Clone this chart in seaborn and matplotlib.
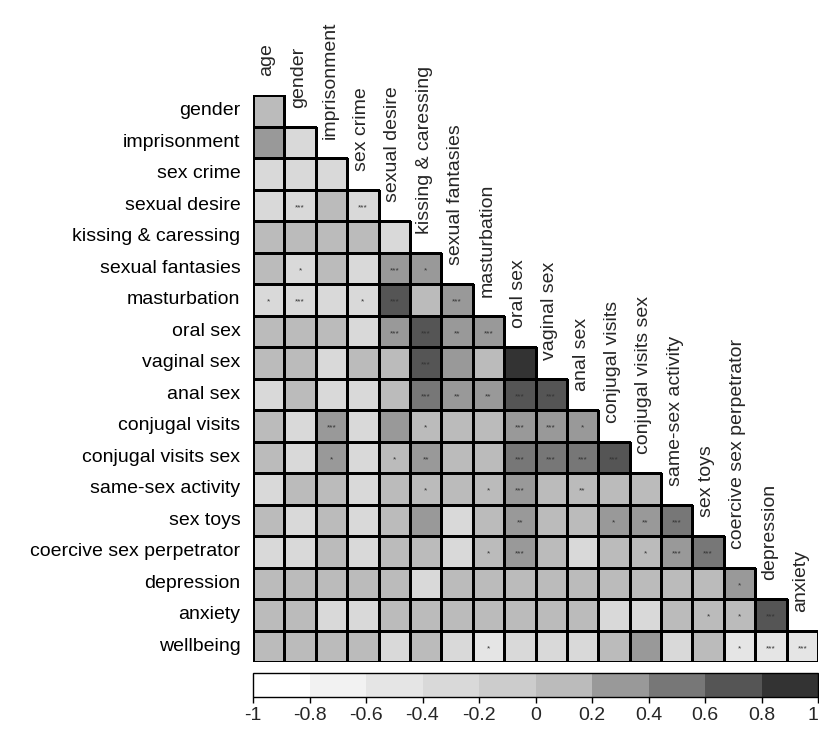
import matplotlib
matplotlib.use("Agg")
import matplotlib.pyplot as plt
import numpy as np
import pandas as pd
import seaborn as sns
from matplotlib.colors import BoundaryNorm, ListedColormap


variables = [
    "age", "gender", "imprisonment", "sex crime", "sexual desire",
    "kissing & caressing", "sexual fantasies", "masturbation", "oral sex",
    "vaginal sex", "anal sex", "conjugal visits", "conjugal visits sex",
    "same-sex activity", "sex toys", "coercive sex perpetrator",
    "depression", "anxiety", "wellbeing",
]
row_labels = variables[1:]
col_labels = variables[:-1]

# lower triangle, values estimated from the shade of each cell
corr_rows = [
    [0.1],
    [0.3, -0.3],
    [-0.3, -0.3, -0.3],
    [-0.3, -0.3, 0.1, -0.3],
    [0.1, 0.1, 0.1, 0.1, -0.3],
    [0.1, -0.3, 0.1, -0.3, 0.3, 0.3],
    [-0.3, -0.3, -0.3, -0.3, 0.7, 0.1, 0.3],
    [0.1, 0.1, 0.1, -0.3, 0.3, 0.7, 0.3, 0.3],
    [0.1, 0.1, -0.3, 0.1, 0.1, 0.7, 0.3, 0.1, 0.9],
    [-0.3, 0.1, -0.3, -0.3, 0.1, 0.5, 0.3, 0.3, 0.7, 0.7],
    [0.1, -0.3, 0.3, -0.3, 0.3, 0.1, 0.1, 0.1, 0.3, 0.3, 0.3],
    [0.1, -0.3, 0.3, -0.3, 0.1, 0.3, 0.1, 0.1, 0.5, 0.5, 0.5, 0.7],
    [-0.3, 0.1, 0.1, -0.3, 0.1, 0.1, 0.1, 0.1, 0.3, 0.1, 0.1, 0.1, 0.1],
    [0.1, -0.3, 0.1, -0.3, 0.1, 0.3, -0.3, 0.1, 0.3, 0.1, 0.1, 0.3, 0.3, 0.5],
    [-0.3, -0.3, 0.1, -0.3, 0.1, 0.1, -0.3, 0.1, 0.3, 0.1, -0.3, 0.1, 0.1, 0.3, 0.5],
    [0.1, 0.1, 0.1, 0.1, 0.1, -0.3, 0.1, 0.1, 0.1, 0.1, 0.1, 0.1, 0.1, 0.1, 0.1, 0.3],
    [0.1, 0.1, -0.3, -0.3, 0.1, 0.1, 0.1, 0.1, 0.1, 0.1, 0.1, -0.3, -0.3, 0.1, 0.1, 0.1, 0.7],
    [0.1, 0.1, 0.1, 0.1, -0.3, 0.1, -0.3, -0.5, -0.3, -0.3, -0.3, 0.1, 0.3, -0.3, 0.1, -0.5, -0.5, -0.5],
]

star_rows = [
    [""],
    ["", ""],
    ["", "", ""],
    ["", "***", "", "***"],
    ["", "", "", "", ""],
    ["", "*", "", "", "***", "*"],
    ["*", "***", "", "*", "***", "", "***"],
    ["", "", "", "", "***", "***", "**", "***"],
    ["", "", "", "", "", "***", "", "", "***"],
    ["", "", "", "", "", "***", "**", "**", "***", "***"],
    ["", "", "***", "", "", "*", "", "", "***", "***", "*"],
    ["", "", "*", "", "*", "**", "", "", "***", "***", "***", "***"],
    ["", "", "", "", "", "*", "", "*", "***", "", "**", "", ""],
    ["", "", "", "", "", "", "", "", "**", "", "", "*", "**", "***"],
    ["", "", "", "", "", "", "", "*", "***", "", "", "", "*", "***", "***"],
    [""] * 15 + ["*"],
    [""] * 14 + ["*", "*", "***"],
    [""] * 7 + ["*"] + [""] * 7 + ["*", "***", "***"],
]

bin_edges = [-1, -0.8, -0.6, -0.4, -0.2, 0, 0.2, 0.4, 0.6, 0.8, 1]
bin_colors = [
    "#ffffff", "#f2f2f2", "#e5e5e5", "#d9d9d9", "#cccccc",
    "#bbbbbb", "#999999", "#777777", "#555555", "#333333",
]
cbar_tick_labels = ["-1", "-0.8", "-0.6", "-0.4", "-0.2", "0",
                    "0.2", "0.4", "0.6", "0.8", "1"]

sns.set_style("white")
plt.rcParams["font.family"] = ["Liberation Sans", "DejaVu Sans"]

n = len(row_labels)
matrix = np.full((n, n), np.nan)
for i, row in enumerate(corr_rows):
    matrix[i, :len(row)] = row
corr = pd.DataFrame(matrix, index=row_labels, columns=col_labels)

fig = plt.figure(figsize=(8.19, 7.29), dpi=100)
ax = fig.add_axes([253 / 819, 67 / 729, 565 / 819, 567 / 729])
cax = fig.add_axes([253 / 819, 32 / 729, 565 / 819, 24 / 729])

cmap = ListedColormap(bin_colors)
norm = BoundaryNorm(bin_edges, cmap.N)

sns.heatmap(
    corr, ax=ax, cmap=cmap, norm=norm,
    linewidths=0.8, linecolor="black",
    xticklabels=False, yticklabels=True,
    cbar_ax=cax,
    cbar_kws={"orientation": "horizontal", "ticks": bin_edges},
)

# no cell borders in the empty upper triangle
mesh = ax.collections[0]
empty = np.isnan(matrix).ravel()
edges = np.zeros((empty.size, 4))
edges[~empty, 3] = 1.0
mesh.set_edgecolor(edges)

ax.tick_params(axis="y", length=0, pad=9, labelsize=14, labelcolor="black")
plt.setp(ax.get_yticklabels(), rotation=0)

for j, name in enumerate(col_labels):
    ax.text(j + 0.45, j - 0.6, name, rotation=90, ha="center", va="bottom",
            fontsize=14, clip_on=False)

for i, row in enumerate(star_rows):
    for j, s in enumerate(row):
        if s:
            ax.text(j + 0.5, i + 0.58, s, ha="center", va="center",
                    fontsize=6, color="#333333")

cbar = mesh.colorbar
cbar.outline.set_edgecolor("black")
cbar.outline.set_linewidth(1)
cbar.ax.set_xticklabels(cbar_tick_labels)
cbar.ax.get_xticklabels()[-1].set_horizontalalignment("right")
cbar.ax.tick_params(axis="x", labelsize=14, length=4, width=1,
                    direction="out", color="black", bottom=True)

fig.savefig("out.png", dpi=100)
